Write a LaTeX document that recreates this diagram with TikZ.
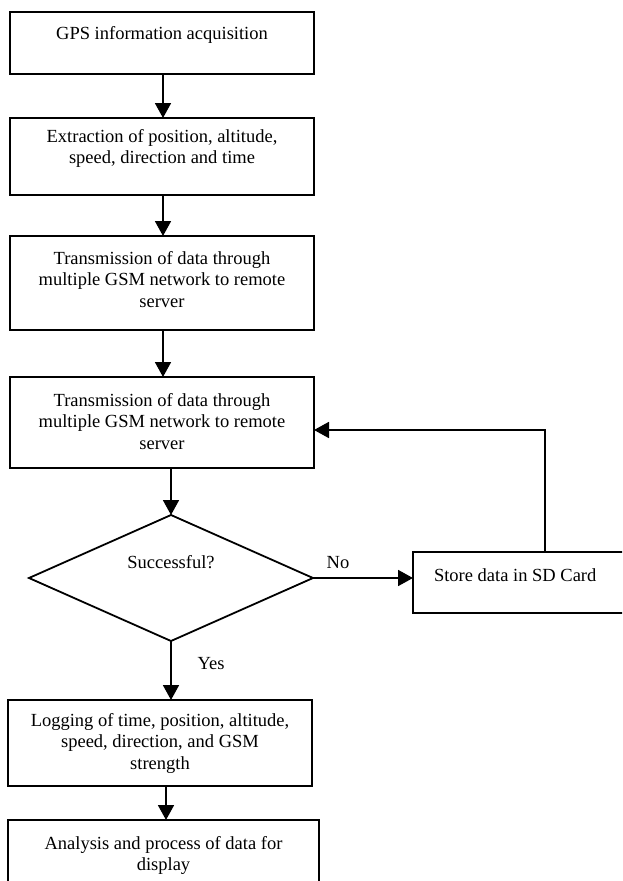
\documentclass[tikz,border=0pt]{standalone}
\usepackage{fontspec}
\setmainfont{Liberation Serif}
\usetikzlibrary{arrows.meta,shapes.geometric}
\begin{document}
\begin{tikzpicture}[x=1pt,y=-1pt,
  every node/.style={font=\fontsize{18.5}{21.5}\selectfont, inner sep=0pt, outer sep=0pt},
  box/.style={draw, rectangle, line width=1.8pt},
  boxtext/.style={anchor=north, align=center},
  arr/.style={line width=1.8pt, -{Triangle[length=15pt,width=16pt]}}
]
\clip (0,0) rectangle (622,881);
\fill[white] (0,0) rectangle (622,881);

% process boxes
\node[box, minimum width=304pt, minimum height=62pt] (b1) at (162,43) {};
\node[box, minimum width=304pt, minimum height=77pt] (b2) at (162,156.5) {};
\node[box, minimum width=304pt, minimum height=94pt] (b3) at (162,283) {};
\node[box, minimum width=304pt, minimum height=91pt] (b4) at (162,422.5) {};
\node[box, minimum width=217pt, minimum height=61pt] (b5) at (521.5,582.5) {};
\node[box, minimum width=304pt, minimum height=86pt] (b6) at (160,743) {};
\node[box, minimum width=311pt, minimum height=70pt] (b7) at (163.5,855) {};

% decision
\node[draw, diamond, line width=1.8pt, aspect=2.25,
      minimum width=284pt, minimum height=126pt] (d) at (171,578) {};

% box texts
\node[boxtext, yshift=-14pt] (t1) at (b1.north) {GPS information acquisition};
\node[boxtext, yshift=-11pt] (t2) at (b2.north) {Extraction of position, altitude,\\ speed, direction and time};
\node[boxtext, yshift=-15pt] (t3) at (b3.north) {Transmission of data through\\ multiple GSM network to remote\\ server};
\node[boxtext, yshift=-16pt] (t4) at (b4.north) {Transmission of data through\\ multiple GSM network to remote\\ server};
\node[anchor=base west] (t5) at (434,581) {Store data in SD Card};
\node[boxtext, yshift=-13pt] (t6) at (b6.north) {Logging of time, position, altitude,\\ speed, direction, and GSM\\ strength};
\node[boxtext, yshift=-16pt] (t7) at (b7.north) {Analysis and process of data for\\ display};
\node[anchor=base] (td) at (171,568) {Successful?};

% branch labels
\node[anchor=base] (no) at (338,568) {No};
\node[anchor=base] (yes) at (211,669) {Yes};

% connectors
\coordinate (fb) at (545,430);
\draw[arr] ([xshift=1pt]b1.south) -- ([xshift=1pt]b2.north);
\draw[arr] ([xshift=1pt]b2.south) -- ([xshift=1pt]b3.north);
\draw[arr] ([xshift=1pt]b3.south) -- ([xshift=1pt]b4.north);
\draw[arr] (d.north |- b4.south) -- (d.north);
\draw[arr] (d.east) -- (d.east -| b5.west);
\draw[arr] (fb |- b5.north) |- (fb -| b4.east);
\draw[arr] (d.south) -- (d.south |- b6.north);
\draw[arr] ([xshift=6pt]b6.south) -- ([xshift=6pt]b6.south |- b7.north);
\end{tikzpicture}
\end{document}
